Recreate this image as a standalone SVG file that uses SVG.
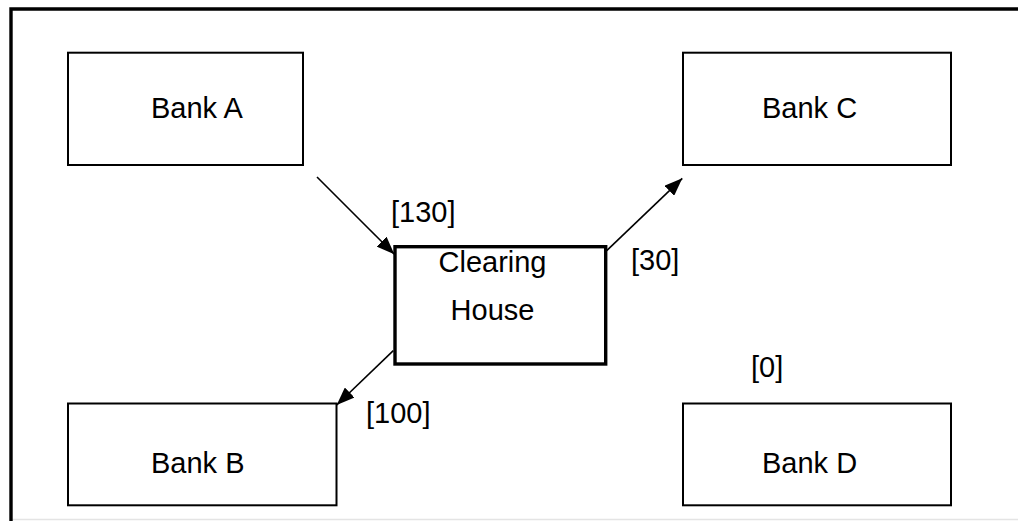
<svg xmlns="http://www.w3.org/2000/svg" width="1018" height="521" viewBox="0 0 1018 521">
<defs>
<style>
.box{fill:#fff;stroke:#000;stroke-width:2}
.ch{fill:#fff;stroke:#000;stroke-width:3.4}
.t{font-family:"Liberation Sans",Arial,sans-serif;font-size:29px;fill:#000}
.c{stroke:#000;stroke-width:1.6;fill:none;marker-end:url(#ah)}
</style>
<marker id="ah" viewBox="0 0 18 14" refX="18" refY="7" markerWidth="18" markerHeight="14" markerUnits="userSpaceOnUse" orient="auto">
<path d="M0,0 L18,7 L0,14 z" fill="#000"/>
</marker>
</defs>
<rect x="0" y="0" width="1018" height="521" fill="#fff"/>
<line x1="12" y1="519.5" x2="1018" y2="519.5" stroke="#e4e4e4" stroke-width="1.5"/>
<path d="M11,521 V9 H1018" fill="none" stroke="#000" stroke-width="3.4"/>
<g id="bankA"><rect class="box" x="68" y="52.7" width="235" height="112.3"/><text class="t" x="151" y="118">Bank A</text></g>
<g id="bankC"><rect class="box" x="683" y="52.7" width="268" height="112.3"/><text class="t" x="762" y="118">Bank C</text></g>
<g id="bankB"><rect class="box" x="68" y="403.5" width="268.5" height="101.8"/><text class="t" x="151" y="473">Bank B</text></g>
<g id="bankD"><rect class="box" x="683" y="403.5" width="268" height="101.8"/><text class="t" x="762" y="473">Bank D</text></g>
<g id="clearing"><rect class="ch" x="395" y="246.7" width="210.7" height="117.3"/><text class="t" x="492.5" y="272" text-anchor="middle">Clearing</text><text class="t" x="492.5" y="320" text-anchor="middle">House</text></g>
<g id="connectors">
<line class="c" x1="317" y1="177" x2="394.3" y2="254.3"/>
<line class="c" x1="606.7" y1="250.7" x2="682.3" y2="178.3"/>
<line class="c" x1="393.3" y1="350.7" x2="336.7" y2="405"/>
</g>
<g id="labels">
<text class="t" x="391" y="222">[130]</text>
<text class="t" x="631" y="270">[30]</text>
<text class="t" x="366" y="423">[100]</text>
<text class="t" x="751" y="377">[0]</text>
</g>
</svg>
